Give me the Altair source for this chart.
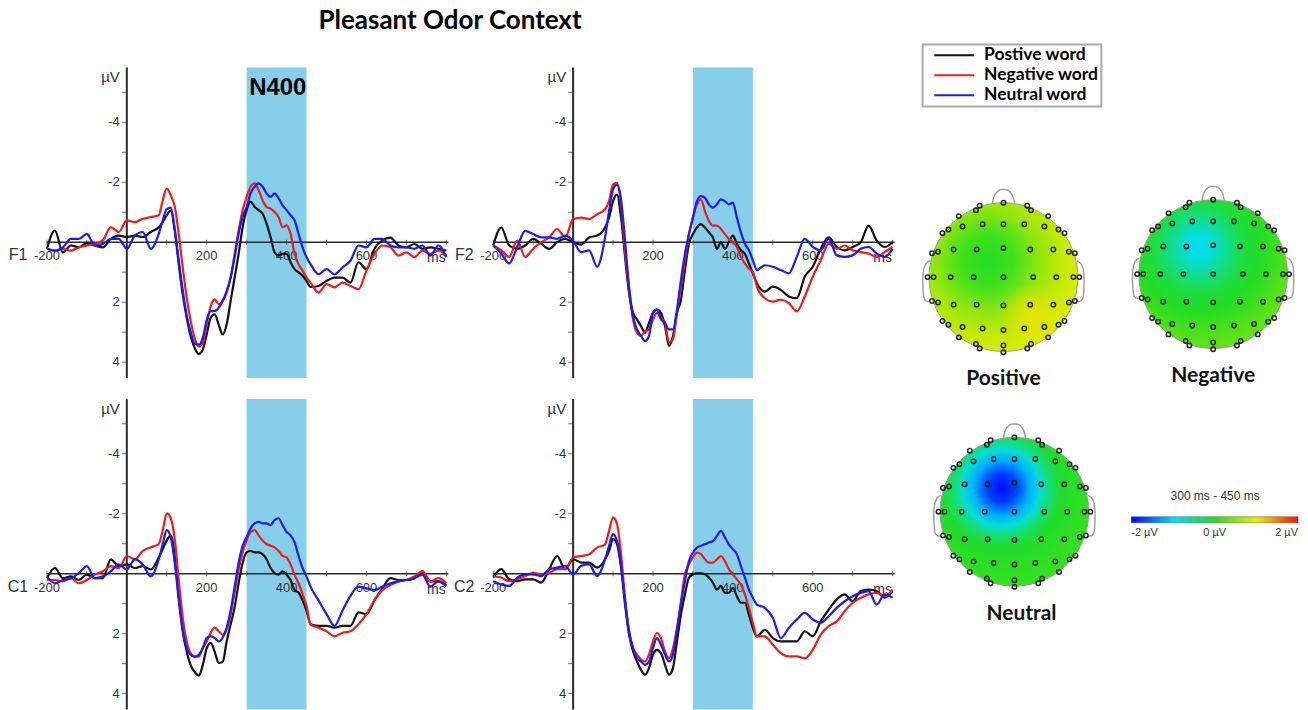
import altair as alt
import pandas as pd

# ---------------- data ----------------
TIMES = [-200, -180, -160, -140, -120, -100, -80, -60, -40, -20, 0, 20, 40, 60,
         80, 90, 100, 110, 120, 130, 140, 150, 160, 170, 180, 190, 200, 210, 220,
         230, 240, 250, 260, 270, 280, 290, 300, 310, 320, 330, 340, 350, 360, 370,
         380, 390, 400, 410, 420, 430, 440, 450, 460,
         480, 500, 520, 540, 560, 580, 600, 620, 640, 660, 680, 700, 720, 740, 760, 780, 800]

CONDITIONS = ["Postive word", "Negative word", "Neutral word"]
COND_COLORS = ["#111111", "#ee1c1c", "#1c1cee"]

F1_POS = [0.22, -0.39, 0.34, 0.11, 0.17, 0.03, 0.11, 0.17, -0.11, -0.22, -0.17, -0.22, -0.17, -0.34,
          -0.50, -0.67, -0.90, -1.05, -0.39, 0.73, 1.74, 2.52, 3.14, 3.53, 3.73, 3.59, 3.08, 2.52, 2.41,
          2.75, 3.08, 2.75, 1.96, 1.18, 0.39, -0.50, -1.07, -1.35, -1.18, -1.07, -0.95, -0.62, -0.17, 0.34,
          0.45, 0.39, 0.39, 0.67, 0.90, 1.01, 1.12, 1.29, 1.49,
          1.46, 1.29, 1.18, 1.18, 1.35, 0.67, 0.90, 0.22, -0.06, -0.15, 0.11, 0.17, 0.06, 0.22, 0.17, 0.22, 0.28]
F1_NEG = [0.22, 0.28, 0.22, 0.28, 0.17, 0.11, 0.06, -0.06, -0.50, -0.34, -0.73, -0.67, -0.78, -0.84,
          -0.90, -1.40, -1.79, -1.57, -1.18, -0.28, 0.84, 1.85, 2.63, 3.20, 3.48, 3.36, 2.75, 2.13, 1.91,
          2.07, 1.96, 1.68, 1.18, 0.39, -0.39, -1.07, -1.51, -1.85, -1.96, -1.74, -1.40, -1.18, -1.12, -1.01,
          -0.84, -0.50, -0.56, -0.28, 0.39, 0.73, 0.95, 1.18, 1.35,
          1.68, 1.40, 1.51, 1.35, 1.46, 1.57, 0.95, 0.39, 0.11, 0.17, 0.45, 0.34, 0.50, 0.28, 0.39, 0.28, 0.45]
F1_NEU = [0.22, 0.28, 0.17, -0.11, -0.11, -0.28, 0.11, 0.06, -0.11, -0.11, 0.22, -0.22, -0.34, 0.22,
          -0.28, -0.73, -1.10, -1.15, -0.45, 0.60, 1.60, 2.45, 3.00, 3.38, 3.42, 3.20, 2.60, 2.30, 2.30,
          2.19, 1.96, 1.63, 1.18, 0.50, -0.28, -0.84, -1.18, -1.63, -1.85, -1.96, -1.85, -1.63, -1.51, -1.63,
          -1.46, -1.23, -1.07, -0.90, -0.73, -0.28, 0.17, 0.50, 0.73,
          1.07, 0.90, 1.07, 0.84, 0.62, 0.11, 0.17, -0.11, -0.11, 0.11, 0.17, 0.17, 0.22, 0.11, 0.45, 0.11, 0.50]

F2_POS = [0.11, -0.49, 0.11, 0.22, 0.11, -0.11, 0.05, 0.22, 0.00, -0.11, 0.00, 0.08, -0.16, -0.22,
          -0.49, -0.82, -1.37, -1.59, -0.82, 0.49, 1.70, 2.36, 2.58, 2.80, 3.02, 2.69, 2.36, 2.25, 2.36,
          2.80, 3.46, 3.13, 2.36, 1.92, 0.93, 0.05, -0.27, -0.49, -0.60, -0.49, -0.33, -0.16, 0.22, 0.00,
          0.22, 0.00, -0.22, 0.05, 0.27, 0.38, 0.71, 1.04, 1.37,
          1.65, 1.48, 1.59, 1.81, 1.87, 1.15, 0.82, 0.22, -0.16, 0.16, 0.27, 0.16, 0.00, -0.55, -0.05, 0.16, 0.00]
F2_NEG = [0.11, 0.27, 0.49, -0.05, 0.49, 0.22, 0.00, -0.16, -0.44, -0.16, -0.77, -0.82, -0.77, -0.93,
          -1.10, -1.37, -1.92, -1.98, -1.26, 0.27, 1.59, 2.58, 3.02, 3.13, 2.97, 2.91, 2.58, 2.36, 2.53,
          2.69, 3.35, 3.24, 2.36, 1.48, 0.60, -0.27, -0.82, -1.26, -1.43, -1.04, -0.71, -0.55, -0.55, -0.44,
          -0.27, -0.11, 0.00, 0.16, 0.49, 0.71, 0.88, 0.99, 1.48,
          1.87, 1.98, 1.92, 2.03, 2.31, 1.81, 1.15, 0.60, 0.05, 0.22, 0.11, 0.27, 0.33, 0.38, 0.49, 0.33, 0.16]
F2_NEU = [0.11, 0.38, 0.71, 0.16, -0.38, -0.27, -0.16, -0.16, -0.11, -0.22, -0.05, 0.33, 0.27, 0.82,
          -0.16, -1.04, -1.76, -1.92, -1.43, -0.05, 1.48, 2.47, 2.91, 3.13, 3.30, 3.13, 2.36, 2.25, 2.58,
          2.69, 2.91, 2.91, 2.25, 1.26, 0.38, -0.27, -0.82, -1.37, -1.54, -1.48, -1.26, -1.15, -1.26, -1.43,
          -1.37, -1.26, -1.32, -0.82, -0.33, 0.05, 0.27, 0.60, 0.93,
          0.77, 0.82, 0.93, 1.04, 0.49, -0.11, 0.16, 0.27, -0.11, 0.44, 0.49, 0.44, 0.22, 0.16, 0.38, 0.49, 0.22]

C1_POS = [0.15, -0.19, 0.15, 0.09, 0.21, 0.03, 0.15, 0.15, -0.48, -0.25, -0.31, -0.19, -0.25, -0.14,
          -0.54, -0.82, -1.11, -1.28, -0.59, 0.78, 1.92, 2.60, 3.06, 3.28, 3.40, 3.06, 2.49, 2.31, 2.60,
          2.98, 2.95, 2.26, 1.69, 1.12, 0.32, -0.36, -0.71, -0.76, -0.71, -0.71, -0.65, -0.48, -0.19, -0.02,
          0.03, -0.08, 0.03, 0.21, 0.55, 0.63, 0.89, 1.23, 1.69,
          1.74, 1.74, 1.80, 1.74, 1.74, 1.29, 1.35, 0.89, 0.49, 0.15, 0.21, 0.21, 0.15, -0.08, 0.26, 0.26, 0.38]
C1_NEG = [0.21, 0.21, 0.26, 0.15, 0.32, 0.21, 0.03, -0.08, -0.25, -0.19, -0.59, -0.48, -0.76, -0.88,
          -0.99, -1.45, -2.01, -1.85, -1.16, 0.21, 1.46, 2.26, 2.66, 2.77, 2.77, 2.49, 2.26, 1.97, 1.80,
          1.92, 2.03, 1.86, 1.35, 0.63, -0.14, -0.71, -1.11, -1.39, -1.45, -1.28, -1.11, -0.99, -0.93, -0.88,
          -0.76, -0.59, -0.54, -0.31, 0.03, 0.32, 0.68, 1.08, 1.69,
          1.80, 1.92, 2.09, 1.97, 1.92, 1.69, 1.35, 0.89, 0.55, 0.38, 0.26, 0.21, 0.09, -0.08, 0.26, 0.15, 0.32]
C1_NEU = [0.09, 0.32, 0.21, 0.15, -0.02, -0.25, 0.15, 0.09, -0.08, -0.31, -0.14, -0.48, -0.31, 0.09,
          -0.48, -0.99, -1.45, -1.22, -0.36, 0.86, 1.89, 2.49, 2.71, 2.77, 2.71, 2.49, 2.14, 2.09, 2.14,
          2.26, 2.14, 1.80, 1.23, 0.43, -0.36, -0.93, -1.22, -1.51, -1.68, -1.73, -1.68, -1.68, -1.62, -1.79,
          -1.85, -1.62, -1.39, -1.28, -1.05, -0.59, -0.19, 0.09, 0.43,
          0.89, 1.35, 1.74, 1.23, 0.74, 0.43, 0.49, 0.55, 0.43, 0.32, 0.26, 0.21, 0.15, 0.03, 0.43, 0.26, 0.43]

C2_POS = [0.13, -0.15, 0.19, 0.25, 0.19, 0.19, 0.30, -0.15, -0.59, -0.15, -0.48, -0.37, -0.37, -0.20,
          -0.48, -0.76, -1.15, -0.98, -0.20, 1.03, 2.03, 2.59, 2.93, 3.21, 3.37, 3.15, 2.70, 2.54, 2.65,
          3.04, 3.37, 3.15, 2.26, 1.36, 0.69, 0.13, 0.02, -0.01, -0.01, 0.02, 0.13, 0.30, 0.53, 0.41,
          0.64, 0.64, 0.47, 0.75, 0.97, 0.97, 1.36, 1.81, 2.09,
          1.87, 2.15, 2.26, 2.26, 2.26, 1.92, 2.09, 1.59, 1.20, 0.86, 0.69, 0.92, 0.58, 0.53, 0.58, 0.80, 0.58]
C2_NEG = [0.08, 0.13, 0.25, 0.19, 0.08, -0.03, 0.02, -0.03, -0.15, -0.15, -0.54, -0.59, -0.65, -0.87,
          -0.98, -1.43, -1.88, -1.65, -0.65, 0.80, 1.92, 2.48, 2.70, 2.87, 2.93, 2.70, 2.26, 1.98, 2.15,
          2.59, 2.82, 2.48, 1.81, 0.92, 0.02, -0.31, -0.54, -0.70, -0.65, -0.48, -0.37, -0.37, -0.48, -0.59,
          -0.42, -0.15, 0.02, 0.19, 0.36, 0.69, 1.14, 1.64, 2.09,
          2.09, 2.37, 2.65, 2.76, 2.76, 2.82, 2.54, 2.03, 1.75, 1.59, 1.25, 0.97, 0.80, 0.69, 0.64, 0.75, 0.53]
C2_NEU = [0.25, 0.36, 0.41, 0.13, 0.02, 0.02, 0.08, -0.15, -0.20, -0.26, 0.02, -0.26, -0.31, 0.08,
          -0.48, -0.93, -1.32, -1.09, -0.31, 0.92, 1.92, 2.48, 2.82, 2.93, 3.04, 2.93, 2.48, 2.15, 2.37,
          2.70, 2.93, 2.70, 1.92, 1.03, 0.25, -0.42, -0.70, -0.87, -0.93, -0.98, -1.04, -1.09, -1.26, -1.43,
          -1.21, -0.98, -0.82, -0.65, -0.26, 0.13, 0.53, 0.80, 1.03,
          1.14, 1.47, 2.15, 1.81, 1.53, 1.31, 1.53, 1.64, 1.42, 1.14, 0.92, 0.75, 0.64, 0.58, 1.03, 0.69, 0.80]

N400_WINDOW = [300, 450]
X_AXIS_RANGE = [-200, 805]
X_TICKS = [-200, -100, 0, 100, 200, 300, 400, 500, 600, 700, 800]
X_LABELS = ["-200", "200", "400", "600"]
X_LABEL_POS = [-200, 200, 400, 600]
Y_TICKS = [-5, -4, -3, -2, -1, 1, 2, 3, 4]
Y_LABELS = ["-4", "-2", "2", "4"]
Y_LABEL_POS = [-4, -2, 2, 4]

# scalp maps (60 electrodes, head radius = 1)
ELEC_X = [0.00, -0.32, -0.37, 0.32, 0.37, -0.60, 0.60, -0.82, -0.74, 0.74, 0.82,
          -0.55, -0.28, 0.00, 0.28, 0.55, -0.96, -0.88, 0.88, 0.96,
          -0.67, -0.36, 0.00, 0.36, 0.67, -1.02, -0.94, 0.94, 1.02,
          -0.71, -0.40, 0.00, 0.40, 0.71, -0.96, -0.88, 0.88, 0.96,
          -0.67, -0.36, 0.00, 0.36, 0.67, -0.82, -0.74, 0.74, 0.82,
          -0.55, -0.28, 0.00, 0.28, 0.55, -0.60, 0.60, -0.37, -0.32, 0.32, 0.37, 0.00, 0.00]
ELEC_Y = [1.00, 0.96, 0.90, 0.96, 0.90, 0.82, 0.82, 0.59, 0.64, 0.64, 0.59,
          0.68, 0.71, 0.71, 0.71, 0.68, 0.32, 0.34, 0.34, 0.32,
          0.37, 0.37, 0.39, 0.37, 0.37, 0.00, 0.00, 0.00, 0.00,
          0.00, 0.00, 0.00, 0.00, 0.00, -0.32, -0.34, -0.34, -0.32,
          -0.37, -0.37, -0.38, -0.37, -0.37, -0.59, -0.64, -0.64, -0.59,
          -0.67, -0.69, -0.71, -0.69, -0.67, -0.81, -0.81, -0.90, -0.96, -0.96, -0.90, -0.92, -1.01]
NOSE_X = [-0.15, -0.12, -0.06, 0.00, 0.06, 0.12, 0.15]
NOSE_Y = [0.99, 1.10, 1.17, 1.18, 1.17, 1.10, 0.99]
EAR_X = [-0.99, -1.05, -1.08, -1.08, -1.06, -1.00]
EAR_Y = [0.22, 0.17, 0.05, -0.18, -0.30, -0.33]

HEAD_NAMES = ["Positive", "Negative", "Neutral"]
# potential maps: value (µV) as a function of distance from the map's extremum
HEAD_FOCUS_X = [-0.22, -0.19, -0.17]
HEAD_FOCUS_Y = [0.22, 0.36, 0.32]
POS_PROFILE_R = [0.0, 0.35, 0.70, 1.00, 1.30]
POS_PROFILE_V = [0.0, 0.15, 0.55, 0.78, 0.92]
NEG_PROFILE_R = [0.0, 0.20, 0.40, 0.60, 0.85, 1.30]
NEG_PROFILE_V = [-0.95, -0.80, -0.45, -0.15, 0.00, 0.30]
NEU_PROFILE_R = [0.0, 0.20, 0.38, 0.52, 0.65, 0.80, 1.30]
NEU_PROFILE_V = [-1.95, -1.70, -1.20, -0.80, -0.35, -0.05, 0.10]
POS_EXTRA_X, POS_EXTRA_Y, POS_EXTRA_R, POS_EXTRA_V = 0.38, -0.50, 0.42, 1.05

CBAR_VALUES = [-2, -1, 0, 1, 2]
CBAR_COLORS = ["#0000ff", "#00ddff", "#22dd22", "#eeee00", "#ff1100"]
CBAR_TITLE = "300 ms - 450 ms"

TITLE = "Pleasant Odor Context"

# ---------------- layout constants ----------------
PX_PER_MS = 0.4
Y_DOMAIN = [-5.83, 4.53]
ROW_H = 311
K = 74.5  # pixels per head radius

LABEL_FONT = "Liberation Sans"
BOLD_FONT = "Lato"


def hex_rgb(c):
    c = c.lstrip("#")
    return [int(c[i:i + 2], 16) for i in (0, 2, 4)]


def jet(v, alpha=1.0):
    cols = [hex_rgb(c) for c in CBAR_COLORS]
    v = max(CBAR_VALUES[0], min(CBAR_VALUES[-1], v))
    for i in range(len(CBAR_VALUES) - 1):
        if v <= CBAR_VALUES[i + 1]:
            f = (v - CBAR_VALUES[i]) / (CBAR_VALUES[i + 1] - CBAR_VALUES[i])
            rgb = [round(a + (b - a) * f) for a, b in zip(cols[i], cols[i + 1])]
            break
    return f"rgba({rgb[0]},{rgb[1]},{rgb[2]},{alpha})"


def radial(fx, fy, radii, values):
    rmax = radii[-1]
    cx, cy = 0.5 + fx / 2, 0.5 - fy / 2
    return {"gradient": "radial", "x1": cx, "y1": cy, "r1": 0,
            "x2": cx, "y2": cy, "r2": rmax / 2,
            "stops": [{"offset": r / rmax, "color": jet(v)} for r, v in zip(radii, values)]}


def erp_panel(label, series, width, legend=None, n400=False):
    xs = alt.Scale(domain=[-200, -200 + width / PX_PER_MS], nice=False, zero=False)
    ys = alt.Scale(domain=Y_DOMAIN, reverse=True, nice=False, zero=False)

    def X(f):
        return alt.X(f, scale=xs, axis=None)

    def Y(f):
        return alt.Y(f, scale=ys, axis=None)

    rows = []
    for cond, vals in zip(CONDITIONS, series):
        assert len(vals) == len(TIMES), (label, cond, len(vals))
        for t, v in zip(TIMES, vals):
            rows.append({"t": t, "v": v, "cond": cond})
    lines_df = pd.DataFrame(rows)

    band = alt.Chart(pd.DataFrame({"s": [N400_WINDOW[0]], "e": [N400_WINDOW[1]]})).mark_rect(
        color="#87ceeb").encode(x=X("s:Q"), x2="e:Q")
    hline = alt.Chart(pd.DataFrame({"a": [X_AXIS_RANGE[0]], "b": [X_AXIS_RANGE[1]], "y": [0]})).mark_rule(
        color="#2a2a2a", strokeWidth=1.5).encode(x=X("a:Q"), x2="b:Q", y=Y("y:Q"))
    vline = alt.Chart(pd.DataFrame({"x": [0]})).mark_rule(color="#2a2a2a", strokeWidth=2).encode(x=X("x:Q"))
    yticks = alt.Chart(pd.DataFrame({"y": Y_TICKS, "x": [0] * len(Y_TICKS)})).mark_tick(
        orient="horizontal", size=5, thickness=1, color="#333", xOffset=-2.5).encode(x=X("x:Q"), y=Y("y:Q"))
    xticks = alt.Chart(pd.DataFrame({"x": X_TICKS, "y": [0] * len(X_TICKS)})).mark_tick(
        orient="vertical", size=5, thickness=1, color="#333").encode(x=X("x:Q"), y=Y("y:Q"))
    ylabels = alt.Chart(pd.DataFrame({"y": Y_LABEL_POS, "lab": Y_LABELS, "x": [0] * 4})).mark_text(
        align="right", baseline="middle", dx=-7, fontSize=13, font=LABEL_FONT, color="#333").encode(
        x=X("x:Q"), y=Y("y:Q"), text="lab:N")
    xlabels = alt.Chart(pd.DataFrame({"x": X_LABEL_POS, "lab": X_LABELS, "y": [0] * 4})).mark_text(
        align="center", baseline="middle", dy=14, fontSize=13, font=LABEL_FONT, color="#333").encode(
        x=X("x:Q"), y=Y("y:Q"), text="lab:N")
    unit_ms = alt.Chart(pd.DataFrame({"x": [775], "lab": ["ms"], "y": [0]})).mark_text(
        align="center", baseline="middle", dy=16, fontSize=14, font=LABEL_FONT, color="#333").encode(
        x=X("x:Q"), y=Y("y:Q"), text="lab:N")
    unit_uv = alt.Chart(pd.DataFrame({"x": [0], "lab": ["µV"], "y": [-5.5]})).mark_text(
        align="right", baseline="middle", dx=-7, fontSize=15, font=LABEL_FONT, color="#333").encode(
        x=X("x:Q"), y=Y("y:Q"), text="lab:N")
    chan = alt.Chart(pd.DataFrame({"x": [-200], "lab": [label], "y": [0]})).mark_text(
        align="center", baseline="middle", dx=-29, dy=13, fontSize=16, font=LABEL_FONT, color="#333").encode(
        x=X("x:Q"), y=Y("y:Q"), text="lab:N")
    lines = alt.Chart(lines_df).mark_line(strokeWidth=2.2, interpolate="monotone").encode(
        x=X("t:Q"), y=Y("v:Q"),
        color=alt.Color("cond:N", scale=alt.Scale(domain=CONDITIONS, range=COND_COLORS), legend=legend))
    layers = [band, hline, vline, yticks, xticks, ylabels, xlabels, unit_ms, unit_uv, chan, lines]
    if n400:
        layers.append(alt.Chart(pd.DataFrame({"x": [378], "y": [-5.15], "lab": ["N400"]})).mark_text(
            align="center", baseline="middle", fontSize=24, fontWeight="bold", font=LABEL_FONT,
            color="black").encode(x=X("x:Q"), y=Y("y:Q"), text="lab:N"))
    return alt.layer(*layers).properties(width=width, height=ROW_H)


def head_panel(idx, radii, values, width, cx_px, cy_px, extra=None, cbar=False, label_dx=0):
    xs = alt.Scale(domain=[-cx_px / K, (width - cx_px) / K], nice=False, zero=False)
    ys = alt.Scale(domain=[-(ROW_H - cy_px) / K, cy_px / K], nice=False, zero=False)

    def X(f):
        return alt.X(f, scale=xs, axis=None)

    def Y(f):
        return alt.Y(f, scale=ys, axis=None)

    origin = pd.DataFrame({"x": [0.0], "y": [0.0]})
    outline_rows = []
    for i, (x, y) in enumerate(zip(NOSE_X, NOSE_Y)):
        outline_rows.append({"part": "nose", "i": i, "x": x, "y": y})
    for i, (x, y) in enumerate(zip(EAR_X, EAR_Y)):
        outline_rows.append({"part": "left ear", "i": i, "x": x, "y": y})
        outline_rows.append({"part": "right ear", "i": i, "x": -x, "y": y})
    outline = alt.Chart(pd.DataFrame(outline_rows)).mark_line(
        color="#9a9a9a", strokeWidth=1.4, interpolate="cardinal").encode(
        x=X("x:Q"), y=Y("y:Q"), detail="part:N", order="i:Q")
    disc = alt.Chart(origin).mark_point(
        shape="circle", size=(2 * K) ** 2, filled=True, opacity=1,
        fill=radial(HEAD_FOCUS_X[idx], HEAD_FOCUS_Y[idx], radii, values),
        stroke="#9a9a9a", strokeWidth=1).encode(x=X("x:Q"), y=Y("y:Q"))
    layers = [outline, disc]
    if extra is not None:
        ex, ey, er, ev = extra
        blob = {"gradient": "radial", "x1": 0.5, "y1": 0.5, "r1": 0, "x2": 0.5, "y2": 0.5, "r2": 0.5,
                "stops": [{"offset": 0, "color": jet(ev, 0.85)}, {"offset": 0.5, "color": jet(ev, 0.5)},
                          {"offset": 1, "color": jet(ev, 0.0)}]}
        layers.append(alt.Chart(pd.DataFrame({"x": [ex], "y": [ey]})).mark_point(
            shape="circle", size=(2 * er * K) ** 2, filled=True, opacity=1, fill=blob, strokeWidth=0).encode(
            x=X("x:Q"), y=Y("y:Q")))
    elec = alt.Chart(pd.DataFrame({"x": ELEC_X, "y": ELEC_Y})).mark_point(
        shape="circle", size=20, filled=False, color="#222222", strokeWidth=1.5, opacity=1).encode(
        x=X("x:Q"), y=Y("y:Q"))
    name = alt.Chart(pd.DataFrame({"x": [0.0], "y": [-1.37], "lab": [HEAD_NAMES[idx]]})).mark_text(
        align="center", baseline="middle", fontSize=21, fontWeight="bold", font=BOLD_FONT, dx=label_dx,
        color="#111").encode(x=X("x:Q"), y=Y("y:Q"), text="lab:N")
    layers += [elec, name]
    if cbar:
        layers.append(alt.Chart(pd.DataFrame({"v": CBAR_VALUES, "x": [0.0] * 5, "y": [0.0] * 5})).mark_point(
            opacity=0, filled=True, size=1).encode(
            x=X("x:Q"), y=Y("y:Q"),
            fill=alt.Fill("v:Q", scale=alt.Scale(domain=CBAR_VALUES, range=CBAR_COLORS, interpolate="rgb"),
                          legend=alt.Legend(
                              title=CBAR_TITLE, orient="none", legendX=213, legendY=92,
                              direction="horizontal", gradientLength=167, gradientThickness=6,
                              values=[-2, 0, 2], labelExpr="datum.value + ' µV'", labelAlign="center",
                              labelFont=LABEL_FONT, labelFontSize=11, labelColor="#333", labelOffset=4,
                              titleFont=LABEL_FONT, titleFontSize=12, titleFontWeight="normal",
                              titleColor="#333", titleAnchor="middle", titlePadding=14, padding=0,
                              strokeColor="transparent", gradientStrokeColor="#555",
                              gradientStrokeWidth=0.5))))
    return alt.layer(*layers).properties(width=width, height=ROW_H)


line_legend = alt.Legend(
    title=None, orient="none", legendX=430, legendY=-23, symbolType="M-4,0H4", symbolSize=100,
    symbolStrokeWidth=2, symbolOffset=21, labelOffset=21, labelFont=BOLD_FONT, labelFontSize=17.5,
    labelFontWeight="bold", labelColor="black", padding=2, rowPadding=1, strokeColor="#aaaaaa",
    fillColor="white")

f1 = erp_panel("F1", [F1_POS, F1_NEG, F1_NEU], 447, n400=True)
f2 = erp_panel("F2", [F2_POS, F2_NEG, F2_NEU], 426, legend=line_legend)
c1 = erp_panel("C1", [C1_POS, C1_NEG, C1_NEU], 447)
c2 = erp_panel("C2", [C2_POS, C2_NEG, C2_NEU], 426)
pos_head = head_panel(0, POS_PROFILE_R, POS_PROFILE_V, 210, 85, 210,
                      extra=(POS_EXTRA_X, POS_EXTRA_Y, POS_EXTRA_R, POS_EXTRA_V))
neg_head = head_panel(1, NEG_PROFILE_R, NEG_PROFILE_V, 180, 85, 207)
neu_head = head_panel(2, NEU_PROFILE_R, NEU_PROFILE_V, 210, 96, 113, cbar=True, label_dx=7)

chart = alt.concat(
    f1, f2, pos_head, neg_head, c1, c2, neu_head,
    columns=4, spacing={"row": 21, "column": 0}, bounds="flush", align="each",
).resolve_scale(
    x="independent", y="independent", color="independent", fill="independent"
).properties(
    title=alt.TitleParams(TITLE, anchor="start", frame="group", dx=272, fontSize=26, font=BOLD_FONT,
                          fontWeight="bold", color="black", offset=9),
    padding={"left": 7, "top": 8, "right": 0, "bottom": 0},
    background="white",
).configure_view(stroke=None).configure_legend(strokeWidth=2)

chart.save("out.html", embed_options={"renderer": "svg", "actions": False})
